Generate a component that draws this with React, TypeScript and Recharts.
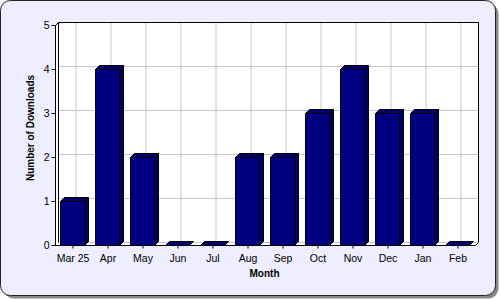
import React from "react";
import { BarChart, Bar, XAxis, YAxis, CartesianGrid } from "recharts";

const months = ["Mar 25", "Apr", "May", "Jun", "Jul", "Aug", "Sep", "Oct", "Nov", "Dec", "Jan", "Feb"];
const downloads = [1, 4, 2, 0, 0, 2, 2, 3, 4, 3, 3, 0];
const yTicks = [0, 1, 2, 3, 4, 5];

const data = months.map((month, i) => ({ month, downloads: downloads[i] }));

// layout of the front face of the plot area
const LEFT = 55.5;
const TOP = 25.5;
const PW = 420;
const PH = 220;
const D = 3; // wall depth
const BD = 4; // bar depth
const FONT = "'Liberation Sans', Arial, sans-serif";

const gridLine = (p: any) => (
  <line
    key={`${p.x1}-${p.y1}-${p.x2}-${p.y2}`}
    x1={p.x1 + D}
    y1={p.y1 - D}
    x2={p.x2 + D}
    y2={p.y2 - D}
    stroke="#c8c8c8"
    strokeWidth={1}
  />
);

function Bar3D(p: any) {
  const x = Math.floor(p.x) - 0.5;
  const w = Math.round(p.width);
  const y = p.y;
  const h = p.height;
  const top = `${x},${y} ${x + BD},${y - BD} ${x + w + BD},${y - BD} ${x + w},${y}`;
  const side = `${x + w},${y} ${x + w + BD},${y - BD} ${x + w + BD},${y + h - BD} ${x + w},${y + h}`;
  return (
    <g stroke="#000" strokeWidth={1} strokeLinejoin="miter">
      {h > 0 && <polygon points={side} fill="#000066" />}
      {h > 0 && <rect x={x} y={y} width={w} height={h} fill="#000080" />}
      <polygon points={top} fill="#000073" />
    </g>
  );
}

export default function App() {
  const wall = `${LEFT},${TOP + PH} ${LEFT},${TOP} ${LEFT + D},${TOP - D} ${LEFT + PW + D},${TOP - D} ${LEFT + PW + D},${TOP + PH - D} ${LEFT + PW},${TOP + PH}`;
  const ty = 128;
  return (
    <div style={{ position: "absolute", left: 0, top: 0, width: 500, height: 300, fontFamily: FONT }}>
      <svg width={500} height={300} style={{ position: "absolute", left: 0, top: 0 }}>
        <rect x={3.5} y={3.5} width={495} height={295} rx={10} fill="#888" />
        <rect x={0.5} y={0.5} width={495} height={295} rx={10} fill="#eeeeff" stroke="#222" />
        <polygon points={wall} fill="#fff" />
        <text
          x={34}
          y={ty}
          transform={`rotate(-90 34 ${ty})`}
          textAnchor="middle"
          fontFamily={FONT}
          fontWeight="bold"
          fontSize={10}
        >
          Number of Downloads
        </text>
        <text x={LEFT + PW / 2 - 1} y={277} textAnchor="middle" fontFamily={FONT} fontWeight="bold" fontSize={10}>
          Month
        </text>
      </svg>
      <div style={{ position: "absolute", left: 0, top: 0 }}>
        <BarChart
          width={500}
          height={300}
          data={data}
          margin={{ top: TOP, right: 500 - LEFT - PW, bottom: 300 - TOP - PH - 30, left: LEFT - 50 }}
        >
          <CartesianGrid stroke="#c8c8c8" horizontal={gridLine} vertical={gridLine} />
          <XAxis
            dataKey="month"
            height={30}
            interval={0}
            tickSize={3}
            tickMargin={6}
            stroke="#000"
            tick={{ fill: "#000", fontSize: 10.5, fontFamily: FONT }}
          />
          <YAxis
            width={50}
            domain={[0, 5]}
            ticks={yTicks}
            tickSize={4}
            tickMargin={2}
            stroke="#000"
            tick={{ fill: "#000", fontSize: 10.5, fontFamily: FONT }}
          />
          <Bar dataKey="downloads" barSize={24} shape={Bar3D} isAnimationActive={false} />
        </BarChart>
      </div>
      <svg width={500} height={300} style={{ position: "absolute", left: 0, top: 0, pointerEvents: "none" }}>
        <g stroke="#000" strokeWidth={1} fill="none">
          <polyline
            points={`${LEFT + D},${TOP + PH - D} ${LEFT + D},${TOP - D} ${LEFT + PW + D},${TOP - D} ${LEFT + PW + D},${TOP + PH - D}`}
          />
          <line x1={LEFT} y1={TOP} x2={LEFT + D} y2={TOP - D} />
          <line x1={LEFT + PW} y1={TOP + PH} x2={LEFT + PW + D} y2={TOP + PH - D} />
        </g>
      </svg>
    </div>
  );
}
